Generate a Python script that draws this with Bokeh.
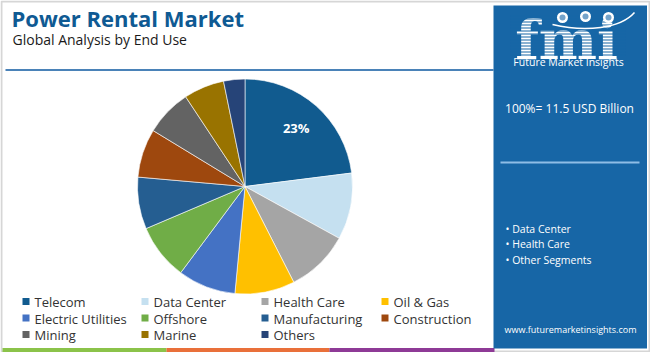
import numpy as np
from bokeh.plotting import figure
from bokeh.models import Range1d, ColumnDataSource
from bokeh.core.properties import value
from bokeh.embed import file_html
from bokeh.resources import INLINE

# ---------------- data ----------------
categories = ["Telecom", "Data Center", "Health Care", "Oil & Gas",
              "Electric Utilities", "Offshore", "Manufacturing", "Construction",
              "Mining", "Marine", "Others"]
shares = [23.0, 10.0, 9.5, 9.0, 8.7, 8.4, 7.8, 7.3, 7.0, 6.1, 3.2]
colors = ["#115b8f", "#c5e0f0", "#a5a5a5", "#ffc000", "#4472c4", "#70ad47",
          "#255e91", "#9e480e", "#636363", "#997300", "#264478"]
title_text = "Power Rental Market"
subtitle_text = "Global Analysis by End Use"
total_text = "100%= 11.5 USD Billion"
key_segments = ["Data Center", "Health Care", "Other Segments"]
url_text = "www.futuremarketinsights.com"

W, H = 650, 352
def Y(v):
    return H - v

def YB(baseline, size, k=0.29):
    # compensate for text baseline placement in the svg backend
    return Y(baseline - k * size)

p = figure(width=W, height=H, x_range=Range1d(0, W), y_range=Range1d(0, H),
           output_backend="svg", toolbar_location=None, min_border=0)
p.axis.visible = False
p.grid.visible = False
p.outline_line_color = None
p.background_fill_color = "white"
p.border_fill_color = "white"

FONT = value("Open Sans")

# outer frame
p.quad(left=1, right=649, top=Y(1), bottom=Y(351), fill_color="white",
       line_color="#d6d6d6", line_width=2)

# title
p.text(x=[11], y=[YB(24, 22)], text=[title_text], text_font=FONT, text_font_style="bold",
       text_font_size="22px", text_color="#0f5a93", text_baseline="alphabetic")
p.text(x=[12], y=[YB(43.5, 14)], text=[subtitle_text], text_font=FONT,
       text_font_size="14px", text_color="#1a1a1a", text_baseline="alphabetic")
p.segment(x0=[5], y0=[Y(69.5)], x1=[493], y1=[Y(69.5)], line_color="#4a82b8", line_width=2)

# bottom band
p.quad(left=[2, 166, 329], right=[166, 329, 494], top=[Y(347.5)] * 3, bottom=[0] * 3,
       fill_color=["#8bc34a", "#e9703a", "#8e3a96"], line_color=None)

# ---------------- pie ----------------
cx, cy, R = 244.5, Y(186), 107.5
vals = np.array(shares, dtype=float)
frac = vals / vals.sum()
cum = np.concatenate([[0], np.cumsum(frac)])
start = np.pi / 2 - 2 * np.pi * cum[1:]
end = np.pi / 2 - 2 * np.pi * cum[:-1]
src = ColumnDataSource(dict(start=start, end=end, color=colors, cat=categories))
p.wedge(x=cx, y=cy, radius=R, start_angle="start", end_angle="end",
        fill_color="color", line_color="white", line_width=0.6, source=src)

mid = np.pi / 2 - 2 * np.pi * (cum[0] + frac[0] / 2)
p.text(x=[cx + 0.72 * R * np.cos(mid)], y=[cy + 0.72 * R * np.sin(mid)],
       text=[f"{shares[0]:.0f}%"], text_font=FONT, text_font_style="bold",
       text_font_size="13px", text_color="white", text_align="center",
       text_baseline="middle")

# ---------------- legend ----------------
col_x = [22, 141, 261, 381]
row_y = [301, 317.5, 334]
lx, ly = [], []
for i, c in enumerate(categories):
    r, k = divmod(i, 4)
    lx.append(col_x[k] + 3.5)
    ly.append(Y(row_y[r]))
p.rect(x=lx, y=ly, width=7, height=7, fill_color=colors, line_color=None)
p.text(x=[v + 8.5 for v in lx], y=[v - 0.5 for v in ly], text=categories, text_font=FONT,
       text_font_size="13px", text_color="#333333", text_baseline="middle")

# ---------------- right panel ----------------
PB = "#1766a6"
p.quad(left=493, right=646.5, top=Y(5), bottom=Y(348), fill_color=PB, line_color=None)

# fmi logo
p.text(x=[566], y=[YB(53, 55, 0.25)], text=["fmi"], text_font=value("DejaVu Serif"),
       text_font_style="bold", text_font_size="55px", text_color="white",
       text_align="center", text_baseline="alphabetic")
sy = np.arange(15.5, 55, 3.0)
p.segment(x0=[510] * len(sy), y0=[Y(v) for v in sy], x1=[625] * len(sy),
          y1=[Y(v) for v in sy], line_color=PB, line_width=1.1)
p.circle(x=[562, 585, 608], y=[Y(17), Y(16), Y(17)], radius=5.5,
         fill_color="white", line_color=None)
p.circle(x=[562, 585, 608], y=[Y(17), Y(16), Y(17)], radius=3,
         fill_color=PB, line_color=None, fill_alpha=0.6)
p.bezier(x0=[552], y0=[Y(24)], x1=[634], y1=[Y(12)], cx0=[585], cy0=[Y(32)],
         cx1=[620], cy1=[Y(28)], line_color="white", line_width=1.5)
p.text(x=[568], y=[YB(64.5, 10.5)], text=["Future Market Insights"], text_font=FONT,
       text_font_size="10.5px", text_color="white", text_align="center",
       text_baseline="alphabetic")

p.text(x=[569], y=[YB(111, 12)], text=[total_text], text_font=FONT,
       text_font_size="12px", text_color="white", text_align="center",
       text_baseline="alphabetic")
p.segment(x0=[500], y0=[Y(162)], x1=[639], y1=[Y(162)], line_color="#8fbde6", line_width=2)

p.text(x=[505] * 3, y=[YB(b, 10.5) for b in (232, 247, 263)],
       text=["\u2022 " + s for s in key_segments],
       text_font=FONT, text_font_size="10.5px", text_color="white",
       text_baseline="alphabetic")
p.text(x=[570], y=[YB(332, 9)], text=[url_text], text_font=FONT, text_font_size="9px",
       text_color="white", text_align="center", text_baseline="alphabetic")

open("out.html", "w").write(file_html(p, INLINE))
